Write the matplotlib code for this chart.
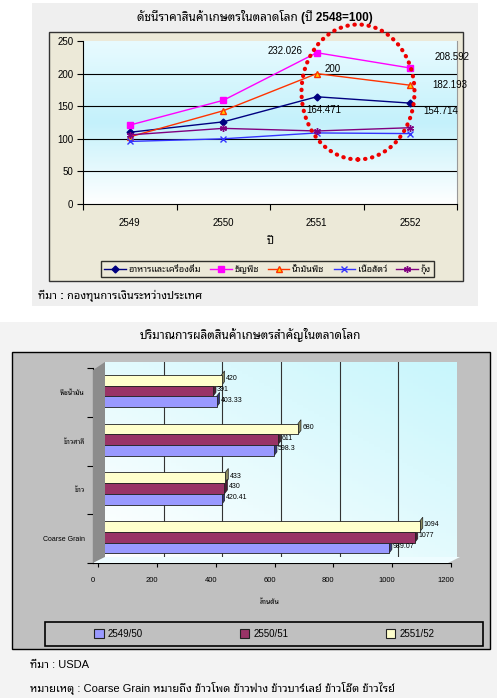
import matplotlib
matplotlib.use('Agg')
import matplotlib.pyplot as plt
import matplotlib.transforms as mtransforms
from matplotlib import font_manager
from matplotlib.ft2font import FT2Font
from matplotlib.patches import Rectangle, Ellipse, Polygon
from matplotlib.colors import LinearSegmentedColormap
import numpy as np

# --- price index chart (ปี 2548=100) ---
years = ['2549', '2550', '2551', '2552']
food_drink = [110, 126, 164.471, 154.714]
cereals = [121, 159, 232.026, 208.592]
veg_oil = [103, 143, 200, 182.193]
meat = [96, 100, 109, 108]
shrimp = [106, 116, 112, 117]

# --- production chart (ล้านตัน) ---
crops = ['พืชน้ำมัน', 'ข้าวสาลี', 'ข้าว', 'Coarse Grain']
seasons = ['2549/50', '2550/51', '2551/52']
prod_4950 = [403.33, 598.3, 420.41, 989.07]
prod_5051 = [391, 611, 430, 1077]
prod_5152 = [420, 680, 433, 1094]

W, H = 500, 698


def find_thai_fonts():
    names = []
    for f in font_manager.fontManager.ttflist:
        try:
            if 0x0E01 in FT2Font(f.fname).get_charmap():
                names.append(f.name)
        except Exception:
            pass
    return sorted(set(names))


thai = find_thai_fonts()
prefer = ['Noto Sans Thai Looped', 'Noto Sans Thai', 'Sarabun', 'Prompt']
thai_font = next((p for p in prefer if p in thai), thai[0] if thai else 'DejaVu Sans')
# latin/digits in an Arial-like face, Thai glyphs fall through to the Thai family
plt.rcParams['font.family'] = ['Liberation Sans', thai_font, 'DejaVu Sans']


def box(x0, y0, x1, y1):
    return [x0 / W, 1 - y1 / H, (x1 - x0) / W, (y1 - y0) / H]


def rect(fig, x0, y0, x1, y1, **kw):
    fig.add_artist(Rectangle((x0 / W, 1 - y1 / H), (x1 - x0) / W, (y1 - y0) / H,
                             transform=fig.transFigure, **kw))


def ftext(fig, x, y, s, **kw):
    fig.text(x / W, 1 - y / H, s, **kw)


fig = plt.figure(figsize=(W / 100, H / 100), dpi=100)
fig.patch.set_facecolor('white')

# ================= top chart =================
rect(fig, 32, 3, 478, 306, facecolor='#efefef', edgecolor='none', zorder=-5)
rect(fig, 49, 32, 463, 281, facecolor='#ece9d8', edgecolor='#333333', lw=1, zorder=-4)
ftext(fig, 255, 17, 'ดัชนีราคาสินค้าเกษตรในตลาดโลก (ปี 2548=100)', ha='center', va='center',
      fontsize=8.5, fontweight='bold')

ax = fig.add_axes(box(83, 41, 457, 204))
grad = LinearSegmentedColormap.from_list('g', ['#ffffff', '#c4f1fb', '#e8fbff'])
ax.imshow(np.linspace(0, 1, 256).reshape(-1, 1), cmap=grad, origin='lower',
          extent=[-0.5, 3.5, 0, 250], aspect='auto', zorder=0)
x = np.arange(len(years))
ax.plot(x, food_drink, color='#000080', marker='D', ms=3.5, lw=1, zorder=3,
        label='อาหารและเครื่องดื่ม')
ax.plot(x, cereals, color='#ff00ff', marker='s', ms=4, lw=1, zorder=3, label='ธัญพืช')
ax.plot(x, veg_oil, color='#ff3300', marker='^', ms=5, mfc='#ffcc00', mec='#ff3300',
        lw=1, zorder=3, label='น้ำมันพืช')
ax.plot(x, meat, color='#3333ff', marker='x', ms=4, lw=1, zorder=3, label='เนื้อสัตว์')
ax.plot(x, shrimp, color='#800080', marker=(6, 2, 0), ms=5, lw=1, zorder=3, label='กุ้ง')

ax.set_xlim(-0.5, 3.5)
ax.set_ylim(0, 250)
ax.set_yticks(range(0, 251, 50))
for v in range(50, 250, 50):
    ax.axhline(v, color='black', lw=0.8, zorder=1)
ax.set_xticks(np.arange(-0.5, 3.6, 1))
ax.set_xticklabels([])
ax.set_xticks(x, minor=True)
ax.set_xticklabels(years, minor=True)
ax.tick_params(axis='x', which='minor', length=0, pad=10, labelsize=7)
ax.tick_params(axis='x', which='major', length=4, direction='out')
ax.tick_params(axis='y', length=4, labelsize=7, pad=3)
ax.spines['top'].set_visible(False)
ax.spines['right'].set_color('#999999')
ax.set_xlabel('ปี', fontsize=8, fontweight='bold', labelpad=6)

# value labels
ax.annotate('232.026', (2, cereals[2]), xytext=(-32, 2), textcoords='offset pixels',
            ha='center', va='center', fontsize=7)
ax.annotate('208.592', (3, cereals[3]), xytext=(42, 11), textcoords='offset pixels',
            ha='center', va='center', fontsize=7)
ax.annotate('200', (2, veg_oil[2]), xytext=(16, 5), textcoords='offset pixels',
            ha='center', va='center', fontsize=7)
ax.annotate('182.193', (3, veg_oil[3]), xytext=(40, 0), textcoords='offset pixels',
            ha='center', va='center', fontsize=7)
ax.annotate('164.471', (2, food_drink[2]), xytext=(7, -13), textcoords='offset pixels',
            ha='center', va='center', fontsize=7)
ax.annotate('154.714', (3, food_drink[3]), xytext=(30, -8), textcoords='offset pixels',
            ha='center', va='center', fontsize=7)

leg = fig.legend(*ax.get_legend_handles_labels(), loc='center', ncol=5,
                 bbox_to_anchor=(267.5 / W, 1 - 269 / H), fontsize=6.5, frameon=True,
                 fancybox=False, edgecolor='black', facecolor='#ece9d8',
                 handlelength=2.4, columnspacing=1.0, handletextpad=0.3, borderpad=0.3)
leg.get_frame().set_linewidth(1)

fig.add_artist(Ellipse((358 / W, 1 - 92 / H), 113 / W, 135 / H, transform=fig.transFigure,
                       fill=False, edgecolor='#ee0000', lw=3, linestyle=(0, (0.1, 1.6)),
                       capstyle='round', zorder=10))

ftext(fig, 38, 296, 'ที่มา : กองทุนการเงินระหว่างประเทศ', ha='left', va='center',
      fontsize=8, fontweight='bold')

# ================= bottom chart =================
rect(fig, 0, 322, 497, 698, facecolor='#f3f3f3', edgecolor='none', zorder=-5)
rect(fig, 12, 352, 490, 649, facecolor='#c0c0c0', edgecolor='black', lw=1, zorder=-4)
ftext(fig, 250, 335, 'ปริมาณการผลิตสินค้าเกษตรสำคัญในตลาดโลก', ha='center', va='center',
      fontsize=8.5, fontweight='bold')

# back wall and 3D side/floor
wall = fig.add_axes(box(105, 362, 457, 557))
wgrad = LinearSegmentedColormap.from_list('w', ['#ffffff', '#c8f6fc'])
wall.imshow(np.add.outer(np.linspace(1, 0, 64), np.linspace(0, 1, 64)) / 2, cmap=wgrad,
            origin='upper', extent=[0, 1200, 0, 1], aspect='auto')
wall.set_xlim(0, 1200)
wall.set_ylim(0, 1)
for v in range(200, 1200, 200):
    wall.axvline(v, color='#333333', lw=0.8)
wall.set_xticks([])
wall.set_yticks([])
for s in wall.spines.values():
    s.set_visible(False)
fig.add_artist(Polygon([(93 / W, 1 - 370 / H), (105 / W, 1 - 362 / H), (105 / W, 1 - 557 / H),
                        (93 / W, 1 - 563 / H)], closed=True, transform=fig.transFigure,
                       facecolor='#8c8c8c', edgecolor='none'))
fig.add_artist(Polygon([(93 / W, 1 - 563 / H), (105 / W, 1 - 557 / H), (460 / W, 1 - 557 / H),
                        (448 / W, 1 - 563 / H)], closed=True, transform=fig.transFigure,
                       facecolor='#eefcff', edgecolor='none'))

bx = fig.add_axes(box(93, 368, 451, 563))
bx.patch.set_alpha(0)
yc = np.arange(len(crops))
series = [(prod_5152, '#ffffcc', '#8c8c60', seasons[2], -0.25),
          (prod_5051, '#993366', '#4d1a33', seasons[1], -0.03),
          (prod_4950, '#9999ff', '#33337f', seasons[0], 0.19)]
bh = 0.22
dx, dy = 10, -0.08
for vals, col, dark, lab, off in series:
    bx.barh(yc + off, vals, height=bh, color=col, edgecolor='#222222', lw=0.6, zorder=3,
            label=lab)
    for yi, v in zip(yc + off, vals):
        top, bot = yi - bh / 2, yi + bh / 2
        bx.add_patch(Polygon([(v, top), (v + dx, top + dy), (v + dx, bot + dy), (v, bot)],
                             closed=True, facecolor=dark, edgecolor='#222222', lw=0.5,
                             zorder=2))
        bx.text(v + 14, yi - 0.03, f'{v:g}', ha='left', va='center', fontsize=5, zorder=4)

bx.set_xlim(-17, 1200)
bx.set_ylim(3.5, -0.5)
bx.set_xticks(range(0, 1201, 200))
bx.tick_params(axis='x', length=3, labelsize=5.5, pad=7)
offset = mtransforms.ScaledTranslation(-5 / 100, 0, fig.dpi_scale_trans)
for lbl in bx.get_xticklabels():
    lbl.set_transform(lbl.get_transform() + offset)
bx.set_yticks(np.arange(-0.5, 3.6, 1))
bx.set_yticklabels([])
bx.set_yticks(yc, minor=True)
bx.set_yticklabels(crops, minor=True)
bx.tick_params(axis='y', which='minor', length=0, labelsize=5, pad=6)
bx.tick_params(axis='y', which='major', length=4)
bx.spines['top'].set_visible(False)
bx.spines['right'].set_visible(False)
ftext(fig, 270, 603, 'ล้านตัน', ha='center', va='center', fontsize=5, fontweight='bold')

rect(fig, 45, 622, 483, 646, facecolor='none', edgecolor='black', lw=1.2, zorder=5)
handles = [Rectangle((0, 0), 1, 1, facecolor=c, edgecolor='#222222', lw=0.8)
           for c in ['#9999ff', '#993366', '#ffffcc']]
fig.legend(handles, seasons, loc='center', ncol=3, bbox_to_anchor=(264 / W, 1 - 634 / H),
           fontsize=7, frameon=False, handlelength=1, handleheight=1, handletextpad=0.4,
           columnspacing=10)

ftext(fig, 30, 665, 'ที่มา : USDA', ha='left', va='center', fontsize=8)
ftext(fig, 30, 688, 'หมายเหตุ : Coarse Grain หมายถึง ข้าวโพด ข้าวฟ่าง ข้าวบาร์เลย์ ข้าวโอ๊ต ข้าวไรย์',
      ha='left', va='center', fontsize=8)

fig.savefig('out.png', dpi=100)
